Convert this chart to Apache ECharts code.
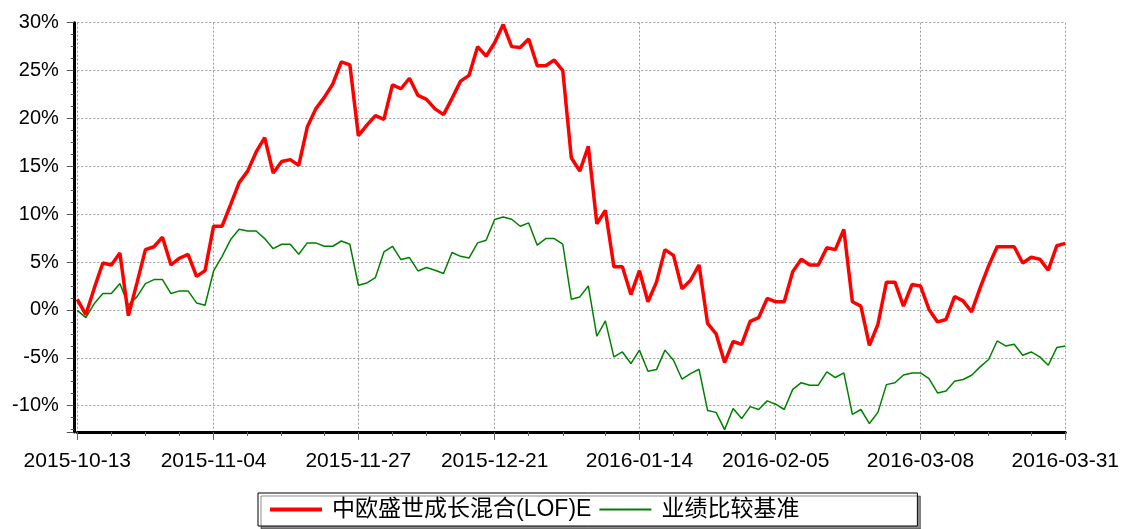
<!DOCTYPE html>
<html><head><meta charset="utf-8">
<script src="https://cdn.jsdelivr.net/npm/echarts@6/dist/echarts.min.js"></script>
<style>html,body{margin:0;padding:0;background:#fff}#c{width:1122px;height:529px}</style>
</head><body><div id="c"></div>
<script>
const dates = [
'2015-10-13','2015-10-14','2015-10-15','2015-10-16','2015-10-19','2015-10-20','2015-10-21','2015-10-22','2015-10-23','2015-10-26','2015-10-27','2015-10-28','2015-10-29','2015-10-30',
'2015-11-02','2015-11-03','2015-11-04','2015-11-05','2015-11-06','2015-11-09','2015-11-10','2015-11-11','2015-11-12','2015-11-13','2015-11-16','2015-11-17','2015-11-18','2015-11-19','2015-11-20','2015-11-23','2015-11-24','2015-11-25','2015-11-26','2015-11-27','2015-11-30',
'2015-12-01','2015-12-02','2015-12-03','2015-12-04','2015-12-07','2015-12-08','2015-12-09','2015-12-10','2015-12-11','2015-12-14','2015-12-15','2015-12-16','2015-12-17','2015-12-18','2015-12-21','2015-12-22','2015-12-23','2015-12-24','2015-12-25','2015-12-28','2015-12-29','2015-12-30','2015-12-31',
'2016-01-04','2016-01-05','2016-01-06','2016-01-07','2016-01-08','2016-01-11','2016-01-12','2016-01-13','2016-01-14','2016-01-15','2016-01-18','2016-01-19','2016-01-20','2016-01-21','2016-01-22','2016-01-25','2016-01-26','2016-01-27','2016-01-28','2016-01-29',
'2016-02-01','2016-02-02','2016-02-03','2016-02-04','2016-02-05','2016-02-15','2016-02-16','2016-02-17','2016-02-18','2016-02-19','2016-02-22','2016-02-23','2016-02-24','2016-02-25','2016-02-26','2016-02-29',
'2016-03-01','2016-03-02','2016-03-03','2016-03-04','2016-03-07','2016-03-08','2016-03-09','2016-03-10','2016-03-11','2016-03-14','2016-03-15','2016-03-16','2016-03-17','2016-03-18','2016-03-21','2016-03-22','2016-03-23','2016-03-24','2016-03-25','2016-03-28','2016-03-29','2016-03-30','2016-03-31'
];
const fundValues = [
1.1,-0.5,2.3,4.9,4.7,5.95,-0.6,2.8,6.3,6.6,7.6,4.7,5.4,5.8,3.5,4.1,8.75,8.75,11.0,13.3,
14.5,16.5,18.0,14.3,15.5,15.7,15.1,19.1,21.0,22.2,23.6,25.9,25.6,18.2,19.3,20.3,19.9,23.5,23.1,24.2,
22.4,22.0,21.0,20.4,22.1,23.9,24.5,27.5,26.5,27.9,29.8,27.5,27.4,28.3,25.5,25.5,26.1,25.0,15.9,14.5,
17.1,9.0,10.4,4.5,4.5,1.6,4.1,0.85,2.9,6.3,5.7,2.2,3.1,4.7,-1.4,-2.5,-5.5,-3.3,-3.6,-1.2,
-0.8,1.2,0.85,0.85,4.0,5.3,4.7,4.7,6.5,6.3,8.4,0.85,0.4,-3.7,-1.5,2.9,2.9,0.4,2.65,2.5,
0.05,-1.25,-1.0,1.4,0.95,-0.2,2.3,4.6,6.6,6.6,6.6,4.9,5.5,5.3,4.15,6.7,6.95
];
const benchValues = [
-0.05,-0.8,0.66,1.71,1.71,2.75,0.49,1.36,2.75,3.17,3.17,1.71,1.99,1.99,0.73,0.49,4.07,5.6,7.35,8.43,
8.25,8.25,7.45,6.4,6.86,6.86,5.82,7.0,7.0,6.65,6.65,7.2,6.86,2.58,2.82,3.38,6.06,6.65,5.26,5.47,
4.07,4.43,4.15,3.8,6.0,5.6,5.43,7.0,7.28,9.44,9.71,9.47,8.74,9.09,6.76,7.45,7.45,6.86,1.12,1.36,
2.5,-2.75,-1.15,-4.9,-4.39,-5.6,-4.2,-6.4,-6.23,-4.2,-5.25,-7.24,-6.65,-6.2,-10.5,-10.7,-12.5,-10.3,-11.35,-10.1,
-10.4,-9.5,-9.85,-10.4,-8.3,-7.6,-7.86,-7.86,-6.47,-7.06,-6.58,-10.9,-10.4,-11.87,-10.7,-7.8,-7.6,-6.8,-6.58,-6.58,
-7.17,-8.67,-8.46,-7.45,-7.27,-6.82,-5.95,-5.18,-3.24,-3.76,-3.58,-4.73,-4.39,-4.9,-5.78,-3.93,-3.76
];
const seriesNames = ['中欧盛世成长混合(LOF)E', '业绩比较基准'];
const seriesColors = ['#ff0000', '#008000'];
const labelIndices = [0, 16, 33, 49, 66, 82, 99, 116];
const minorTickIndices = [4, 8, 12, 20, 24, 29, 37, 41, 45, 53, 57, 62, 70, 74, 78, 86, 90, 95, 103, 107, 112];
const yMin = -12.75, yMax = 30;

const labelSet = new Set(labelIndices);
const minorSet = new Set(minorTickIndices);
const font = 'Arial, "Liberation Sans", "Noto Sans CJK SC", sans-serif';
const chart = echarts.init(document.getElementById('c'), null, {renderer: 'canvas'});
chart.setOption({
  animation: false,
  backgroundColor: '#fff',
  textStyle: {fontFamily: font},
  grid: {left: 77.3, right: 53.7, top: 22.7, bottom: 97, containLabel: false},
  legend: {
    left: 258, top: 493, itemWidth: 52, itemHeight: 14, itemGap: 7,
    padding: [5, 118, 5, 10],
    borderColor: '#000', borderWidth: 1, backgroundColor: '#fff',
    shadowColor: 'rgba(0,0,0,0.45)', shadowOffsetX: 3, shadowOffsetY: 3, shadowBlur: 0,
    itemStyle: {opacity: 0},
    textStyle: {fontSize: 23, color: '#000', fontFamily: font, padding: [0, 0, 0, 5]},
    data: [
      {name: seriesNames[0], lineStyle: {width: 4, color: seriesColors[0]}},
      {name: seriesNames[1], lineStyle: {width: 2, color: seriesColors[1]}}
    ]
  },
  xAxis: [{
    type: 'category', data: dates, boundaryGap: false,
    axisLine: {onZero: false, lineStyle: {color: '#000', width: 3}},
    axisTick: {interval: (i) => labelSet.has(i), length: 8, lineStyle: {color: '#666'}},
    axisLabel: {interval: (i) => labelSet.has(i), color: '#000', fontSize: 21, margin: 19, fontFamily: font},
    splitLine: {show: true, interval: (i) => labelSet.has(i), lineStyle: {color: '#999', type: [2, 2]}}
  }, {
    type: 'category', data: dates, boundaryGap: false, position: 'bottom',
    axisLine: {show: false, onZero: false}, axisLabel: {show: false}, splitLine: {show: false},
    axisTick: {interval: (i) => minorSet.has(i), length: 4, lineStyle: {color: '#666'}}
  }],
  yAxis: [{
    type: 'value', min: yMin, max: yMax, splitNumber: 8, offset: 3.5,
    axisLine: {show: true, onZero: false, lineStyle: {color: '#000', width: 3}},
    axisTick: {show: true, length: 7, lineStyle: {color: '#555'}},
    minorTick: {show: true, splitNumber: 4, length: 3, lineStyle: {color: '#555'}},
    axisLabel: {formatter: (v) => (Math.abs(v % 5) < 1e-9 ? v + '%' : ''), fontSize: 20, color: '#000', margin: 15, fontFamily: font},
    splitLine: {show: true, lineStyle: {color: '#999', type: [2, 2]}}
  }],
  series: [{
    name: seriesNames[0], type: 'line', data: fundValues, symbol: 'none', xAxisIndex: 0,
    lineStyle: {color: seriesColors[0], width: 3.5}, itemStyle: {color: seriesColors[0]}, z: 3
  }, {
    name: seriesNames[1], type: 'line', data: benchValues, symbol: 'none', xAxisIndex: 0,
    lineStyle: {color: seriesColors[1], width: 1.5}, itemStyle: {color: seriesColors[1]}, z: 2
  }]
});
</script></body></html>
